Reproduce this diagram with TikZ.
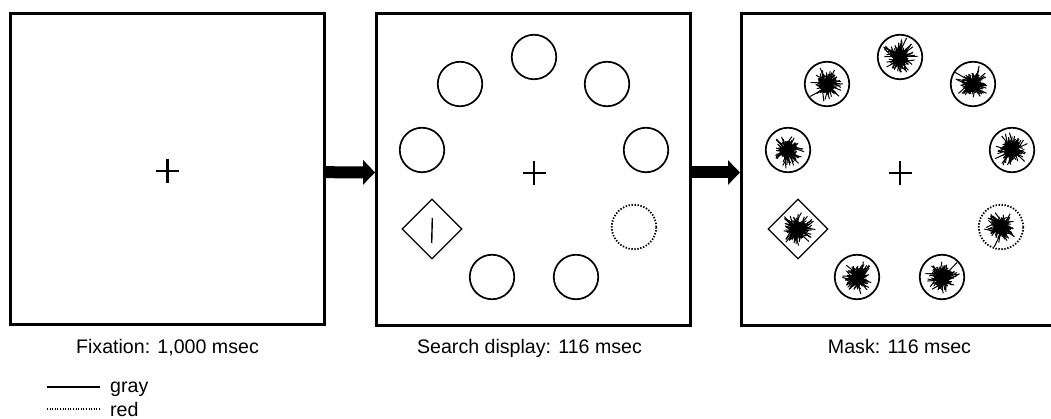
\documentclass[tikz,border=0pt]{standalone}
\usepackage{fontspec}
\setmainfont{Liberation Sans}
\usetikzlibrary{shapes.geometric,arrows.meta}

\begin{document}
\begin{tikzpicture}[x=1pt,y=-1pt,
  panel/.style={draw, line width=3pt, minimum width=314pt, minimum height=311pt, inner sep=0pt},
  disc/.style={draw, circle, line width=1.7pt, minimum size=44.5pt, inner sep=0pt},
  dotdisc/.style={disc, line width=1.8pt, dash pattern=on 1.4pt off 1.6pt},
  gem/.style={draw, diamond, line width=1.2pt, minimum width=60pt, minimum height=60pt, inner sep=0pt},
  caption/.style={font=\fontsize{19.6}{23}\selectfont, anchor=base, inner sep=0pt},
  legendtext/.style={font=\fontsize{19.6}{23}\selectfont, anchor=base west, inner sep=0pt},
  bigarrow/.style={line width=12pt, -{Triangle[width=24pt,length=12pt]}},
  crossbar/.style={line width=2.5pt},
  burst/.style={line width=1pt},
  pics/fixcross/.style={code={
    \draw[crossbar] (-11.5,0) -- (11.5,0);
    \draw[crossbar] (0,-12) -- (0,12);
  }}
]
\clip (0,0) rectangle (1051,419);
\fill[white] (0,0) rectangle (1051,419);

% the three frames
\node[panel] (p1) at (167.3,169.2) {};
\node[panel] (p2) at (533.6,169.5) {};
\node[panel] (p3) at (898.5,169.5) {};

% arrows between frames
\draw[bigarrow] ([yshift=-3pt]p1.east) -- ([yshift=-3pt]p2.west);
\draw[bigarrow] ([yshift=-3pt]p2.east) -- ([yshift=-3pt]p3.west);

% fixation crosses
\pic at (167.3,171) {fixcross};
\pic at (534,173) {fixcross};
\pic at (900,173) {fixcross};

% search display
\node[disc] (s1) at (534,57) {};
\node[disc] (s2) at (460,84) {};
\node[disc] (s3) at (607,84) {};
\node[disc] (s4) at (422,150) {};
\node[disc] (s5) at (646,150) {};
\node[disc] (s6) at (492,277) {};
\node[disc] (s7) at (576,277) {};
\node[dotdisc] (s8) at (634,227) {};
\node[gem] (s9) at (432,229) {};
\draw[line width=1.4pt] ([shift={(0.3,-11)}]s9.center) -- ([shift={(-0.3,14)}]s9.center);

% mask display
\node[disc] (m1) at (900,57) {};
\node[disc] (m2) at (827,84) {};
\node[disc] (m3) at (973,84) {};
\node[disc] (m4) at (788,150) {};
\node[disc] (m5) at (1012,150) {};
\node[disc] (m6) at (857,277) {};
\node[disc] (m7) at (942,277) {};
\node[dotdisc] (m8) at (1001,227) {};
\node[gem] (m9) at (798,229) {};

% random line bursts used as masks
\pgfmathsetseed{4711}
\foreach \n in {m1,m2,m3,m4,m5,m6,m7,m8,m9}{
  \foreach \k in {1,...,95}{
    \pgfmathsetmacro\ang{rnd*360}
    \pgfmathsetmacro\len{4+14*rnd*rnd}
    \pgfmathsetmacro\dx{(rnd-0.5)*10}
    \pgfmathsetmacro\dy{(rnd-0.5)*10}
    \draw[burst] ([shift={(\dx,\dy)}]\n.center) ++(\ang:\len) -- ++(\ang+180:2*\len);
  }
}

% captions
\node[caption] (c1) at (167.5,353) {Fixation: 1,000 msec};
\node[caption] (c2) at (529.5,353) {Search display: 116 msec};
\node[caption] (c3) at (899.5,353) {Mask: 116 msec};

% legend
\coordinate (g0) at (47,387);
\coordinate (g1) at (100,387);
\coordinate (r0) at (47,409);
\coordinate (r1) at (100,409);
\draw[line width=1.3pt] (g0) -- (g1);
\draw[line width=1.3pt, dash pattern=on 1pt off 1.6pt] (r0) -- (r1);
\node[legendtext] (lg) at (110,392) {gray};
\node[legendtext] (lr) at (110,416) {red};
\end{tikzpicture}
\end{document}
